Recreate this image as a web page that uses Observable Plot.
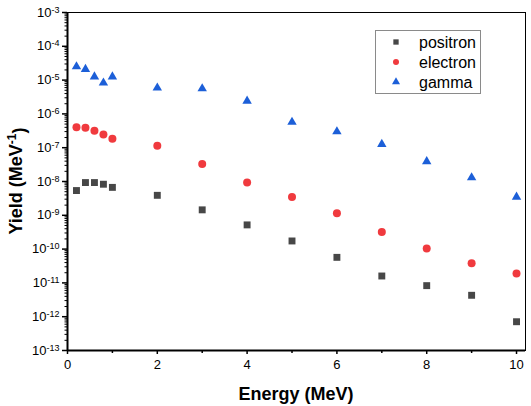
<!DOCTYPE html>
<html><head><meta charset="utf-8">
<script src="https://cdn.jsdelivr.net/npm/d3@7"></script>
<script src="https://cdn.jsdelivr.net/npm/@observablehq/plot@0.6"></script>
<style>body{margin:0;background:#fff} svg{font-family:"Liberation Sans",Arial,sans-serif}</style>
</head><body><div id="chart"></div>
<script>
const energy = [0.2, 0.4, 0.6, 0.8, 1, 2, 3, 4, 5, 6, 7, 8, 9, 10];
const positron = [5.4e-9, 9.3e-9, 9.3e-9, 8.3e-9, 6.7e-9, 3.9e-9, 1.45e-9, 5.2e-10, 1.74e-10, 5.7e-11, 1.6e-11, 8.3e-12, 4.3e-12, 7.1e-13];
const electron = [4.0e-7, 3.9e-7, 3.2e-7, 2.45e-7, 1.85e-7, 1.15e-7, 3.3e-8, 9.3e-9, 3.5e-9, 1.15e-9, 3.2e-10, 1.05e-10, 3.8e-11, 1.9e-11];
const gamma = [2.5e-5, 2.1e-5, 1.26e-5, 8.3e-6, 1.26e-5, 5.9e-6, 5.6e-6, 2.4e-6, 5.7e-7, 3.0e-7, 1.26e-7, 3.9e-8, 1.3e-8, 3.5e-9];
const seriesNames = ["positron", "electron", "gamma"];
const seriesColors = ["#474747", "#f03a3e", "#1c5fd8"];
const seriesSymbols = ["square", "circle", "triangle"];
const seriesR = [3.9, 4, 3.5];
const xTicks = [0, 2, 4, 6, 8, 10];
const xMinorTicks = [1, 3, 5, 7, 9];
const yExponents = [-13, -12, -11, -10, -9, -8, -7, -6, -5, -4, -3];
const xTitle = "Energy (MeV)";
const yTitle = ["Yield (MeV", "-1", ")"];

const seriesValues = [positron, electron, gamma];
const yTicks = yExponents.map(e => Math.pow(10, e));
const yMinor = yExponents.slice(0, -1).flatMap(e => d3.range(2, 10).map(k => k * Math.pow(10, e)));

const W = 531, H = 406, mL = 67, mR = 6, mT = 12, mB = 56;

const dotMarks = seriesNames.map((name, i) =>
  Plot.dot(energy.map((x, j) => ({x, y: seriesValues[i][j]})), {
    x: "x", y: "y", symbol: () => seriesSymbols[i], r: seriesR[i],
    fill: seriesColors[i], stroke: "none"
  })
);

const plot = Plot.plot({
  width: W, height: H,
  marginLeft: mL, marginRight: mR, marginTop: mT, marginBottom: mB,
  style: {fontFamily: "Liberation Sans, Arial, sans-serif", fontSize: "13px", color: "#000", background: "#fff"},
  x: {domain: [0, 10.2]},
  y: {type: "log", domain: [1e-13, 1e-3]},
  symbol: {type: "identity"},
  marks: [
    Plot.frame({stroke: "#000", strokeWidth: 1}),
    Plot.axisY(yMinor, {tickSize: 2.5, tickFormat: () => "", strokeWidth: 1, label: null}),
    Plot.axisY(yTicks, {tickSize: 5, tickPadding: 3, strokeWidth: 1.5, label: null, fontSize: 13,
      tickFormat: d => String(Math.round(Math.log10(d)))}),
    Plot.axisX(xMinorTicks, {tickSize: 3, tickFormat: () => "", strokeWidth: 1.5, label: null}),
    Plot.axisX(xTicks, {tickSize: 4, tickPadding: 5, strokeWidth: 1.5, label: null, fontSize: 13, tickFormat: d => String(d)}),
    Plot.ruleX([0], {stroke: "#000", strokeWidth: 2}),
    Plot.ruleY([1e-13], {stroke: "#000", strokeWidth: 2}),
    ...dotMarks
  ]
});
document.getElementById("chart").appendChild(plot);

const svg = d3.select(plot);
// superscript tick labels
svg.selectAll('g[aria-label="y-axis tick label"] text').each(function() {
  const t = d3.select(this);
  const exp = t.text();
  if (!exp) return;
  t.text("");
  t.append("tspan").text("10");
  t.append("tspan").attr("dy", "-0.45em").attr("font-size", "9px").text(exp);
});

// axis titles
svg.append("text")
  .attr("x", mL + (W - mL - mR) / 2).attr("y", 400)
  .attr("text-anchor", "middle").attr("font-weight", "bold").attr("font-size", "18px")
  .attr("fill", "#000").text(xTitle);
const yt = svg.append("text")
  .attr("transform", `translate(22,${mT + (H - mT - mB) / 2}) rotate(-90)`)
  .attr("text-anchor", "middle").attr("font-weight", "bold").attr("font-size", "18px").attr("fill", "#000");
yt.append("tspan").text(yTitle[0]);
yt.append("tspan").attr("dy", "-0.5em").attr("font-size", "12px").text(yTitle[1]);
yt.append("tspan").attr("dy", "0.5em").text(yTitle[2]);

// legend
const lg = svg.append("g");
lg.append("rect").attr("x", 375.5).attr("y", 30.5).attr("width", 105).attr("height", 63)
  .attr("fill", "#fff").attr("stroke", "#8a8a8a").attr("stroke-width", 1);
const symMap = {square: d3.symbolSquare, circle: d3.symbolCircle, triangle: d3.symbolTriangle};
seriesNames.forEach((name, i) => {
  const cy = 42 + i * 20;
  lg.append("path").attr("transform", `translate(396,${cy})`)
    .attr("d", d3.symbol(symMap[seriesSymbols[i]], Math.PI * 3 * 3)())
    .attr("fill", seriesColors[i]);
  lg.append("text").attr("x", 419).attr("y", cy).attr("dy", "0.35em")
    .attr("text-anchor", "start")
    .attr("font-size", "16px").attr("fill", "#000").text(name);
});
</script></body></html>
